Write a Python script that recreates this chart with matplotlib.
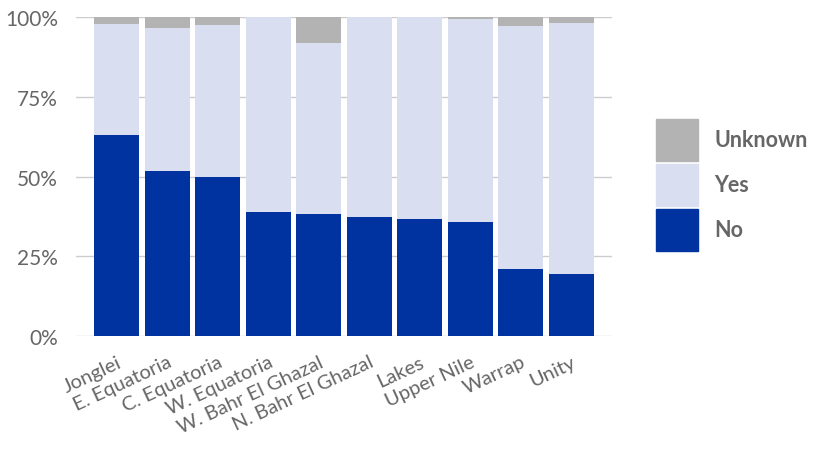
import matplotlib
matplotlib.use("Agg")
import matplotlib.pyplot as plt
import numpy as np
from matplotlib.patches import Patch

states = ["Jonglei", "E. Equatoria", "C. Equatoria", "W. Equatoria", "W. Bahr El Ghazal",
          "N. Bahr El Ghazal", "Lakes", "Upper Nile", "Warrap", "Unity"]
no = [63.1, 51.8, 49.8, 39.1, 38.4, 37.5, 36.7, 35.9, 21.1, 19.5]
yes_top = [97.8, 96.8, 97.5, 100, 92.1, 100, 100, 99.4, 97.2, 98.4]
yes = [t - n for t, n in zip(yes_top, no)]
unknown = [100 - t for t in yes_top]

c_no = "#0033a0"
c_yes = "#d9dff0"
c_unk = "#b3b3b3"
txt = "#666666"

plt.rcParams["font.family"] = ["Lato", "DejaVu Sans"]

fig = plt.figure(figsize=(8.2, 4.6), dpi=100)
ax = fig.add_axes([0.0927, 0.267, 0.6536, 0.693])

x = np.arange(len(states))
w = 0.89
ax.bar(x, no, w, color=c_no, zorder=2)
ax.bar(x, yes, w, bottom=no, color=c_yes, zorder=2)
ax.bar(x, unknown, w, bottom=yes_top, color=c_unk, zorder=2)

ax.set_xlim(-0.8, 9.8)
ax.set_ylim(0, 100)
ax.set_yticks([0, 25, 50, 75, 100])
ax.set_yticklabels(["0%", "25%", "50%", "75%", "100%"])
ax.grid(axis="y", color="#cccccc", linewidth=1, zorder=0)
for s in ax.spines.values():
    s.set_visible(False)
ax.tick_params(axis="both", length=0, labelcolor=txt)
ax.tick_params(axis="y", pad=13, labelsize=15)
ax.set_xticks(x)
ax.set_xticklabels(states, rotation=25, ha="right", rotation_mode="anchor")
ax.tick_params(axis="x", pad=12, labelsize=14.5)

# legend, order top to bottom as in the picture
handles = [Patch(color=c_unk, label="Unknown"),
           Patch(color=c_yes, label="Yes"),
           Patch(color=c_no, label="No")]
leg = fig.legend(handles=handles, loc="center left", bbox_to_anchor=(0.7766, 0.596),
                 frameon=False, handlelength=1.94, handleheight=2.6,
                 handletextpad=0.77, labelspacing=0.16,
                 prop={"size": 15.5, "weight": "bold"})
for t in leg.get_texts():
    t.set_color(txt)

fig.savefig("out.png", dpi=100)
